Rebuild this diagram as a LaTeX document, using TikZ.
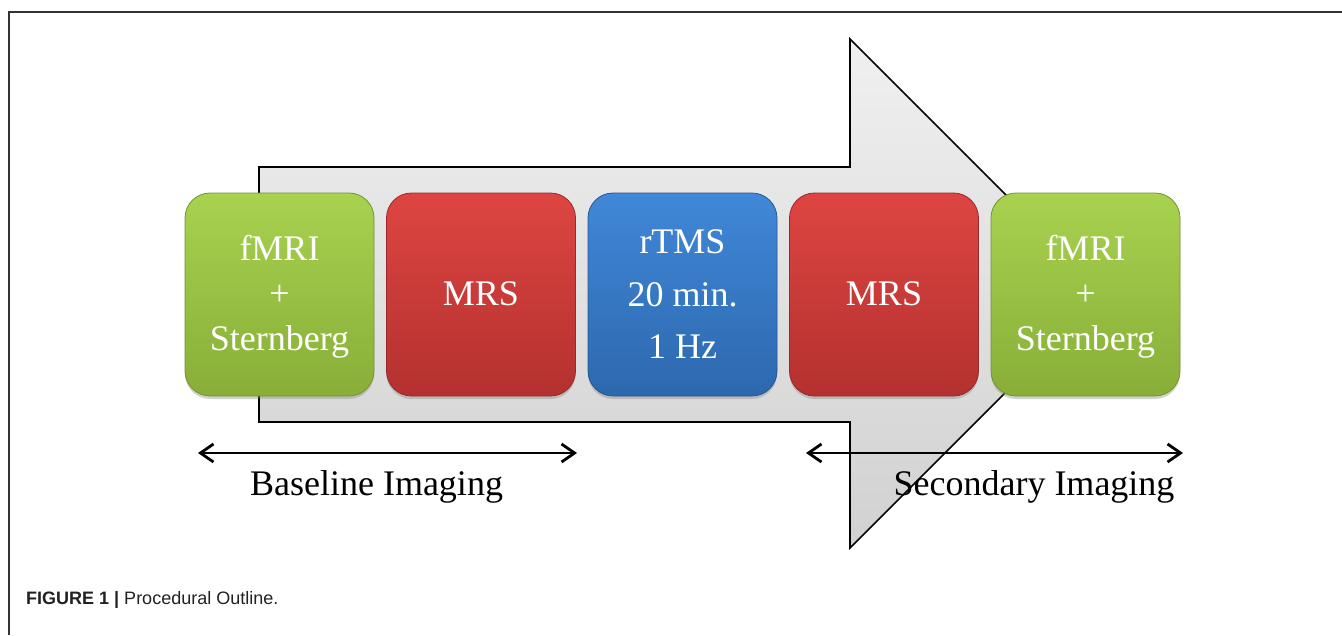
\documentclass[tikz,border=0pt]{standalone}
\usepackage{fontspec}
\setmainfont{Liberation Serif}
\newfontfamily\capfont{Liberation Sans}
\usetikzlibrary{arrows.meta,shadows}
\definecolor{frameline}{HTML}{333333}
\definecolor{greentop}{HTML}{A8D24F}
\definecolor{greenbot}{HTML}{88AE38}
\definecolor{redtop}{HTML}{DE4542}
\definecolor{redbot}{HTML}{B3312F}
\definecolor{bluetop}{HTML}{4088D8}
\definecolor{bluebot}{HTML}{2D68AE}
\definecolor{captext}{HTML}{222222}
\tikzset{
  stagebox/.style={rectangle, rounded corners=25pt, minimum width=189pt, minimum height=203pt,
     inner sep=0pt, line width=0.8pt,
     drop shadow={shadow xshift=0pt, shadow yshift=-3pt, opacity=0.35}},
  greenbox/.style={stagebox, top color=greentop, bottom color=greenbot, draw=greenbot!85!black},
  redbox/.style={stagebox, top color=redtop, bottom color=redbot, draw=redbot!85!black},
  bluebox/.style={stagebox, top color=bluetop, bottom color=bluebot, draw=bluebot!85!black},
  boxtext/.style={text=white, anchor=base, inner sep=0pt, font=\fontsize{36}{42}\selectfont},
  labeltext/.style={text=black, anchor=base, inner sep=0pt, font=\fontsize{36}{44}\selectfont},
  spanarrow/.style={line width=2.8pt, {Straight Barb[length=13pt,width=18pt]}-{Straight Barb[length=13pt,width=18pt]}},
  bigarrow/.style={draw=black, line width=1.6pt, line join=miter, top color=gray!12, bottom color=gray!36}
}
\begin{document}
\begin{tikzpicture}[x=1pt,y=-1pt]
\useasboundingbox (0,0) rectangle (1342,635);
\fill[white] (0,0) rectangle (1342,635);
% frame (top and left)
\draw[frameline, line width=1.5pt] (9,635) -- (9,12) -- (1342,12);

% big process arrow
\path[bigarrow] (259,167) -- (850,167) -- (850,39) -- (1104.5,293.5) -- (850,548) -- (850,422) -- (259,422) -- cycle;

% stage boxes
\node[greenbox] (b1) at (279.5,294.5) {};
\node[redbox]   (b2) at (481,294.5) {};
\node[bluebox]  (b3) at (682.5,294.5) {};
\node[redbox]   (b4) at (884,294.5) {};
\node[greenbox] (b5) at (1085.5,294.5) {};

% box texts
\node[boxtext] (t1a) at (279.5,260) {fMRI};
\node[boxtext] (t1b) at (279.5,305) {+};
\node[boxtext] (t1c) at (279.5,350) {Sternberg};
\node[boxtext] (t2)  at (481,305) {MRS};
\node[boxtext] (t3a) at (682.5,253) {rTMS};
\node[boxtext] (t3b) at (682.5,306) {20 min.};
\node[boxtext] (t3c) at (682.5,358) {1 Hz};
\node[boxtext] (t4)  at (884,305) {MRS};
\node[boxtext] (t5a) at (1085.5,260) {fMRI};
\node[boxtext] (t5b) at (1085.5,305) {+};
\node[boxtext] (t5c) at (1085.5,350) {Sternberg};

% span arrows
\coordinate (bl) at (198,453);
\coordinate (br) at (577,453);
\coordinate (sl) at (806,453);
\coordinate (sr) at (1183,453);
\draw[spanarrow] (bl) -- (br);
\draw[spanarrow] (sl) -- (sr);
\node[labeltext] (lb) at (376.5,495) {Baseline Imaging};
\node[labeltext] (ls) at (1034,495) {Secondary Imaging};

% caption
\node[anchor=base west, inner sep=0pt, text=captext, font=\capfont\fontsize{18}{21}\selectfont] (cap) at (26,604)
  {\textbf{FIGURE 1 |} Procedural Outline.};
\end{tikzpicture}
\end{document}
